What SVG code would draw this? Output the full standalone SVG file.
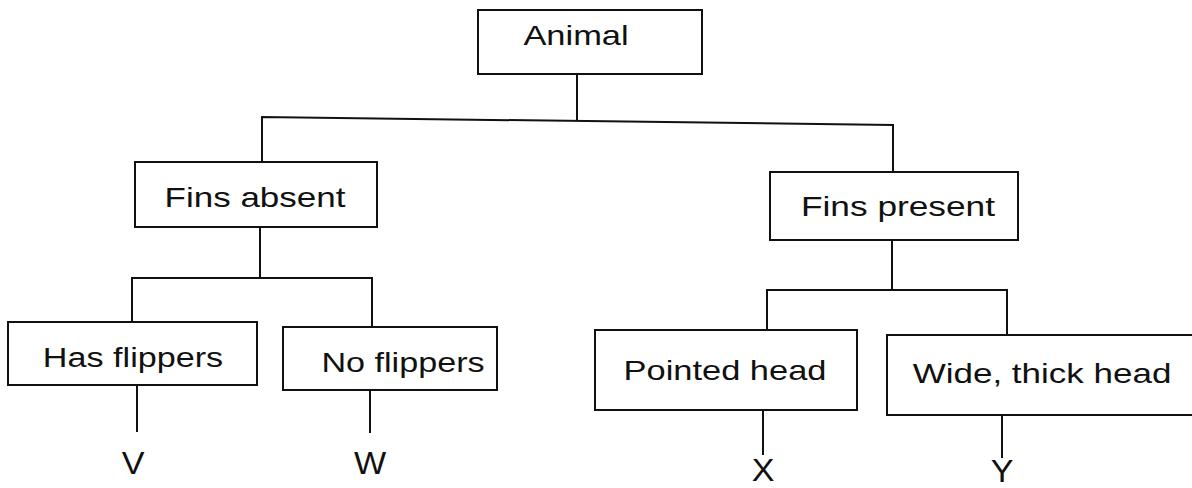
<svg xmlns="http://www.w3.org/2000/svg" width="1192" height="488" viewBox="0 0 1192 488">
<style>
.box{fill:#fff;stroke:#111;stroke-width:2}
.ln{fill:none;stroke:#111;stroke-width:2}
.t{font-family:"Liberation Sans",Arial,sans-serif;font-size:28px;fill:#111;text-anchor:middle}
.l{font-family:"Liberation Sans",Arial,sans-serif;font-size:31px;fill:#111;text-anchor:middle}
</style>
<rect width="1192" height="488" fill="#fff"/>
<g id="connectors">
<path class="ln" d="M577,74 V120"/>
<path class="ln" d="M262,162 V117 L893,125 V172"/>
<path class="ln" d="M260,227 V278"/>
<path class="ln" d="M132,322 V278 H372 V327"/>
<path class="ln" d="M892,240 V290"/>
<path class="ln" d="M767,330 V290 H1007 V335"/>
<path class="ln" d="M137,385 V432"/>
<path class="ln" d="M370,390 V433"/>
<path class="ln" d="M763,410 V455"/>
<path class="ln" d="M1002,415 V458"/>
</g>
<g id="n-animal">
<rect class="box" x="478" y="10" width="224" height="64"/>
<text class="t" transform="translate(576 45) scale(1.23 1)">Animal</text>
</g>
<g id="n-fins-absent">
<rect class="box" x="135" y="162" width="242" height="65"/>
<text class="t" transform="translate(255 207) scale(1.25 1)">Fins absent</text>
</g>
<g id="n-fins-present">
<rect class="box" x="770" y="172" width="248" height="68"/>
<text class="t" transform="translate(898 216) scale(1.26 1)">Fins present</text>
</g>
<g id="n-has-flippers">
<rect class="box" x="8" y="322" width="249" height="63"/>
<text class="t" transform="translate(133 367) scale(1.22 1)">Has flippers</text>
</g>
<g id="n-no-flippers">
<rect class="box" x="283" y="327" width="214" height="63"/>
<text class="t" transform="translate(403 372) scale(1.22 1)">No flippers</text>
</g>
<g id="n-pointed-head">
<rect class="box" x="595" y="330" width="262" height="80"/>
<text class="t" transform="translate(725 380) scale(1.23 1)">Pointed head</text>
</g>
<g id="n-wide-head">
<rect class="box" x="887" y="335" width="320" height="80"/>
<text class="t" transform="translate(1042 383) scale(1.25 1)">Wide, thick head</text>
</g>
<g id="n-v"><text class="l" transform="translate(133 474) scale(1.1 1)">V</text></g>
<g id="n-w"><text class="l" transform="translate(370 474) scale(1.1 1)">W</text></g>
<g id="n-x"><text class="l" transform="translate(763 481) scale(1.1 1)">X</text></g>
<g id="n-y"><text class="l" transform="translate(1002 482) scale(1.1 1)">Y</text></g>
</svg>
